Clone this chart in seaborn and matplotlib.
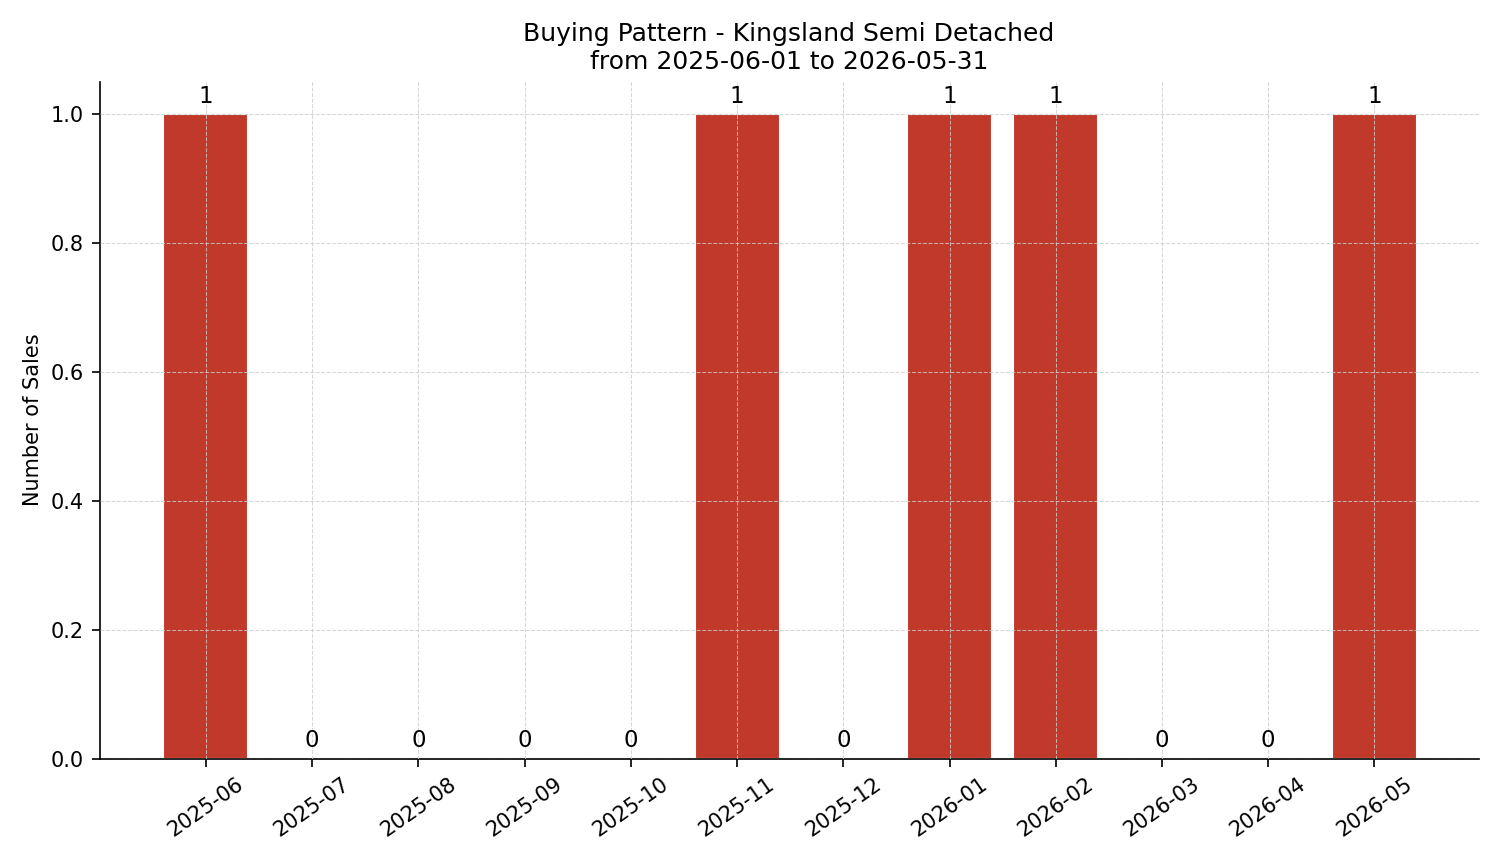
import matplotlib
matplotlib.use("Agg")
import matplotlib.pyplot as plt
import seaborn as sns
import pandas as pd

months = ["2025-06","2025-07","2025-08","2025-09","2025-10","2025-11",
          "2025-12","2026-01","2026-02","2026-03","2026-04","2026-05"]
sales = [1,0,0,0,0,1,0,1,1,0,0,1]

sns.set_style("white", {"text.color": "black", "axes.labelcolor": "black",
                        "xtick.color": "black", "ytick.color": "black",
                        "axes.edgecolor": "black"})
plt.rcParams['font.family'] = ['DejaVu Sans']
fig, ax = plt.subplots(figsize=(1501/150, 863/150), dpi=150)
df = pd.DataFrame({"month": months, "sales": sales})
sns.barplot(data=df, x="month", y="sales", color="#c0392b", saturation=1, width=0.8, ax=ax)
ax.set_axisbelow(False)
ax.grid(True, linestyle="--", linewidth=0.5, color="#cccccc", alpha=0.8)
for i, v in enumerate(sales):
    ax.text(i, v + 0.01, str(v), ha="center", va="bottom", fontsize=11, color="black")
ax.set_title("Buying Pattern - Kingsland Semi Detached\nfrom 2025-06-01 to 2026-05-31", fontsize=12, color="black")
ax.set_xlabel("")
ax.set_ylabel("Number of Sales", fontsize=10)
ax.set_ylim(0, 1.05)
ax.set_xlim(-1.0, 11.98)
ax.set_yticks([0, 0.2, 0.4, 0.6, 0.8, 1.0])
ax.tick_params(axis='both', labelsize=10, length=4, left=True, bottom=True)
plt.setp(ax.get_xticklabels(), rotation=35)
sns.despine(ax=ax)
fig.tight_layout()
fig.savefig("out.png", dpi=150)
